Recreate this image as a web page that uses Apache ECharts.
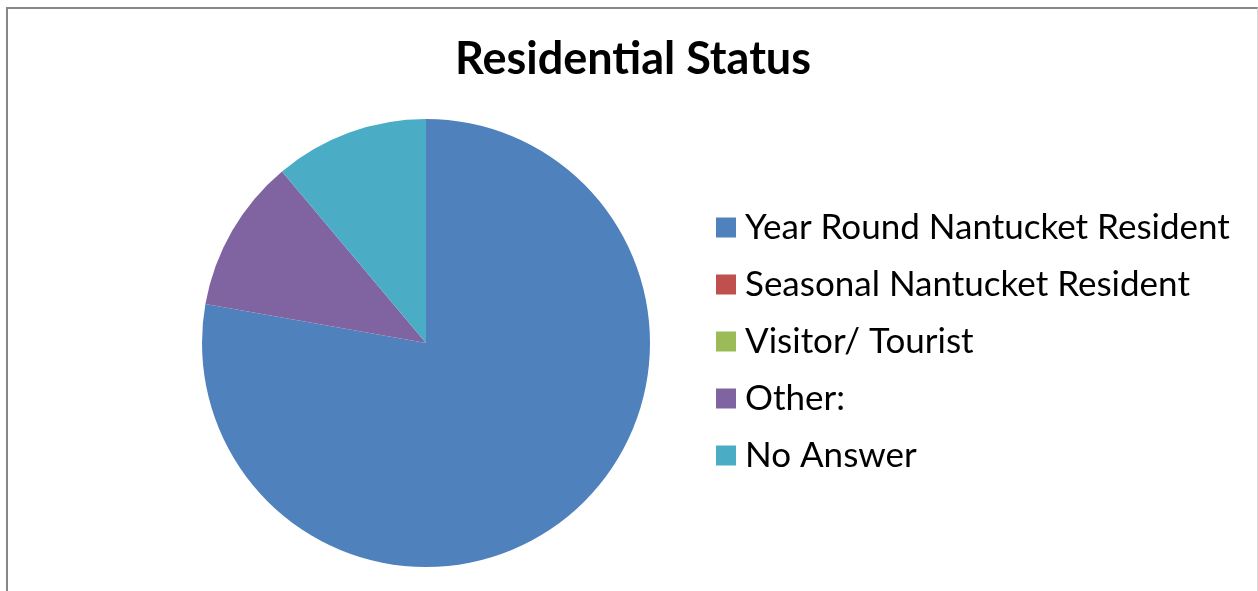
<!DOCTYPE html>
<html>
<head>
<meta charset="utf-8">
<script src="https://cdn.jsdelivr.net/npm/echarts@6/dist/echarts.min.js"></script>
<style>
  html, body { margin: 0; padding: 0; background: #fff; }
  #chart { position: absolute; left: 0; top: 0; width: 1258px; height: 591px; }
  #frame {
    position: absolute; left: 6px; top: 7px; width: 1249px; height: 600px;
    border-left: 2px solid #878787; border-top: 2px solid #878787;
    border-right: 1px solid #d9d9d9; pointer-events: none;
  }
</style>
</head>
<body>
<div id="chart"></div>
<div id="frame"></div>
<script>
// categories and counts
const categories = ['Year Round Nantucket Resident', 'Seasonal Nantucket Resident', 'Visitor/ Tourist', 'Other:', 'No Answer']
const counts = [7, 0, 0, 1, 1]
const colors = ['#4F81BD', '#C0504D', '#9BBB59', '#8064A2', '#4BACC6']

const chart = echarts.init(document.getElementById('chart'))
chart.setOption({
  backgroundColor: '#fff',
  animation: false,
  color: colors,
  title: {
    text: 'Residential Status',
    left: 633,
    textAlign: 'center',
    top: 37,
    padding: 0,
    textStyle: {
      fontFamily: 'Lato',
      fontWeight: 'bold',
      fontSize: 45,
      color: '#000'
    }
  },
  legend: {
    orient: 'vertical',
    left: 716,
    top: 210,
    padding: 0,
    icon: 'rect',
    itemWidth: 20,
    itemHeight: 20,
    itemGap: 22,
    data: categories,
    textStyle: {
      fontFamily: 'Lato',
      fontSize: 35,
      lineHeight: 35,
      color: '#000',
      padding: [0, 0, 0, 4]
    }
  },
  series: [{
    type: 'pie',
    center: [426, 343],
    radius: 224,
    startAngle: 90,
    clockwise: true,
    label: { show: false },
    labelLine: { show: false },
    emphasis: { disabled: true },
    itemStyle: { borderWidth: 0 },
    data: categories.map((name, i) => ({ name: name, value: counts[i] }))
  }]
})
</script>
</body>
</html>
